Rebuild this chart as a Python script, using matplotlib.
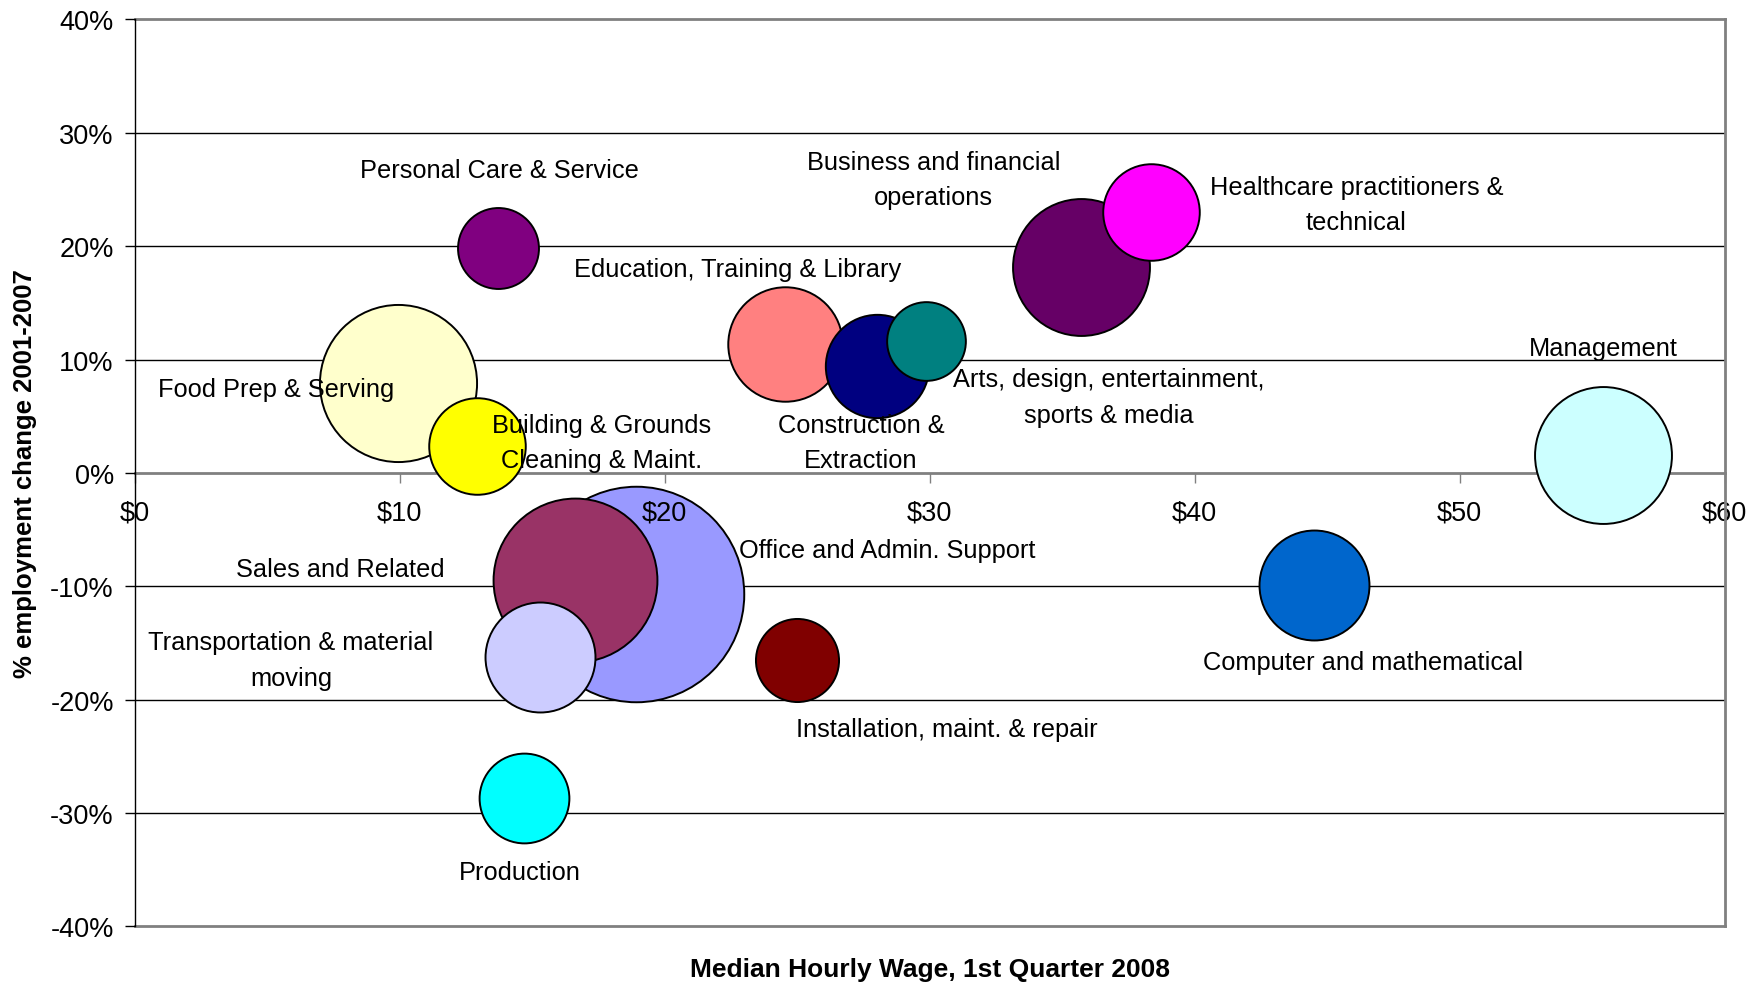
import matplotlib.pyplot as plt
import numpy as np

plt.rcParams['font.family'] = ['Liberation Sans', 'DejaVu Sans']

occupations = ['Personal Care & Service', 'Food Prep & Serving',
               'Building & Grounds\nCleaning & Maint.', 'Education, Training & Library',
               'Construction &\nExtraction', 'Arts, design, entertainment,\nsports & media',
               'Business and financial\noperations', 'Healthcare practitioners &\ntechnical',
               'Management', 'Office and Admin. Support', 'Sales and Related',
               'Transportation & material\nmoving', 'Production',
               'Installation, maint. & repair', 'Computer and mathematical']
wage = [13.7, 9.95, 12.9, 24.55, 28.0, 29.85, 35.7, 38.35, 55.4, 18.9, 16.6, 15.3, 14.7, 25.0, 44.5]
emp_change = [19.8, 7.9, 2.4, 11.4, 9.4, 11.6, 18.2, 23.0, 1.6, -10.7, -9.4, -16.2, -28.7, -16.5, -9.9]
# relative employment (bubble area)
employment = [130, 490, 185, 260, 212, 123, 372, 185, 372, 922, 533, 240, 160, 137, 240]

colors = ['#800080', '#FFFFCC', '#FFFF00', '#FF8080', '#000080', '#008080', '#660066', '#FF00FF',
          '#CCFFFF', '#9999FF', '#993366', '#CCCCFF', '#00FFFF', '#800000', '#0066CC']

# label offsets from bubble centre (data units)
label_off = [(0.05, 6.9), (-4.6, -0.5), (4.7, 0.3), (-1.8, 6.6), (-0.6, -6.7), (6.9, -4.9),
             (-5.55, 7.7), (7.75, 0.7), (0.0, 9.4), (9.5, 3.9), (-8.85, 0.9), (-9.4, -0.3),
             (-0.15, -6.5), (5.65, -6.1), (1.85, -6.8)]

fig = plt.figure(figsize=(17.6, 9.87), dpi=100)
ax = fig.add_axes([0.0765, 0.0603, 0.9035, 0.919])

emp = np.array(employment, dtype=float)
sizes = 24080 * emp / emp.max()

for i in range(len(wage)):
    ax.scatter(wage[i], emp_change[i], s=sizes[i], c=colors[i], edgecolors='black',
               linewidths=1.4, zorder=1)
    dx, dy = label_off[i]
    ax.text(wage[i] + dx, emp_change[i] + dy, occupations[i], ha='center', va='center',
            fontsize=18.3, linespacing=1.6, zorder=3)

ax.set_xlim(0, 60)
ax.set_ylim(-40, 40)
ax.set_xticks(np.arange(0, 61, 10))
ax.set_xticklabels(['$%d' % v for v in range(0, 61, 10)])
ax.set_yticks(np.arange(-40, 41, 10))
ax.set_yticklabels(['%d%%' % v for v in range(-40, 41, 10)])

for v in np.arange(-30, 31, 10):
    if v != 0:
        ax.axhline(v, color='black', linewidth=1.0, zorder=0)
ax.axhline(40, color='#808080', linewidth=2.0, zorder=0.5, clip_on=False)
ax.axhline(-40, color='#808080', linewidth=2.0, zorder=0.5, clip_on=False)

ax.spines['bottom'].set_position(('data', 0))
ax.spines['bottom'].set_color('#808080')
ax.spines['bottom'].set_linewidth(2.0)
ax.spines['bottom'].set_zorder(0.5)
ax.spines['top'].set_visible(False)
ax.spines['right'].set_color('#808080')
ax.spines['right'].set_linewidth(2.0)
ax.spines['left'].set_color('black')
ax.spines['left'].set_linewidth(1.0)

ax.tick_params(axis='x', direction='out', length=7, width=1, color='#808080', pad=12, labelsize=19.5)
ax.tick_params(axis='y', direction='out', length=7, width=1, color='black', pad=8, labelsize=19.5)

ax.set_xlabel('Median Hourly Wage, 1st Quarter 2008', fontsize=19, fontweight='bold')
ax.xaxis.set_label_coords(0.5, -0.047)
ax.xaxis.label.set_verticalalignment('center')
ax.set_ylabel('% employment change 2001-2007', fontsize=18.5, fontweight='bold')
ax.yaxis.set_label_coords(-0.069, 0.5)
ax.yaxis.label.set_verticalalignment('center')

fig.savefig('out.png', dpi=100)
